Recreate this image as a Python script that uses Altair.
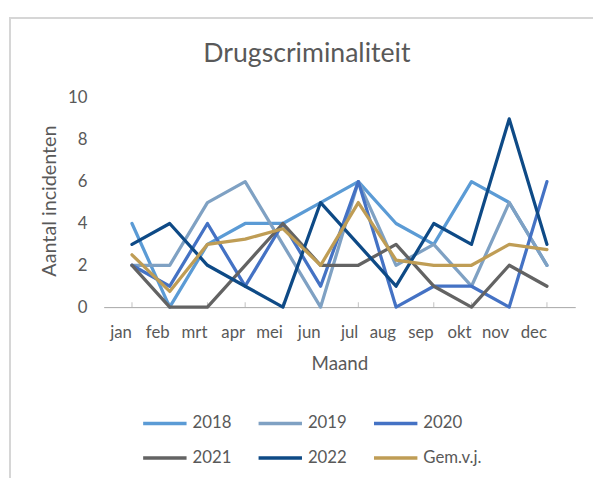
import altair as alt
import pandas as pd

months = ["jan", "feb", "mrt", "apr", "mei", "jun", "jul", "aug", "sep", "okt", "nov", "dec"]
series_names = ["2018", "2019", "2020", "2021", "2022", "Gem.v.j."]
y2018 = [4, 0, 3, 4, 4, 5, 6, 4, 3, 6, 5, 2]
y2019 = [2, 2, 5, 6, 3, 0, 6, 2, 3, 1, 5, 2]
y2020 = [2, 1, 4, 1, 4, 1, 6, 0, 1, 1, 0, 6]
y2021 = [2, 0, 0, 2, 4, 2, 2, 3, 1, 0, 2, 1]
y2022 = [3, 4, 2, 1, 0, 5, 3, 1, 4, 3, 9, 3]
gem = [2.5, 0.75, 3, 3.25, 3.75, 2, 5, 2.25, 2, 2, 3, 2.75]
colors = ["#5B9BD5", "#7FA1C3", "#4472C4", "#636363", "#0E4A86", "#BF9D55"]
chart_title = "Drugscriminaliteit"

values = [y2018, y2019, y2020, y2021, y2022, gem]
rows = []
for si, (name, vals) in enumerate(zip(series_names, values)):
    for m, v in zip(months, vals):
        rows.append({"Maand": m, "Jaar": name, "Aantal": v, "order": si})
df = pd.DataFrame(rows)

FONT = "Lato"
TXT = "#595959"

x_enc = alt.X("Maand:O", sort=months, scale=alt.Scale(domain=months, padding=0.5),
              axis=alt.Axis(title="Maand", labelAngle=0, ticks=False, labelPadding=26,
                            labelFontSize=17, labelColor=TXT, labelFont=FONT,
                            titleFontSize=19, titleColor=TXT, titleFont=FONT,
                            titleFontWeight="normal", titleX=239, titleY=57,
                            titleBaseline="middle", domainColor="#A6A6A6",
                            domainWidth=1, grid=False))
y_enc = alt.Y("Aantal:Q", scale=alt.Scale(domain=[0, 10], nice=False),
              axis=alt.Axis(title="Aantal incidenten", values=[0, 2, 4, 6, 8, 10],
                            ticks=False, domain=False, labelPadding=17,
                            labelFontSize=17, labelColor=TXT, labelFont=FONT,
                            gridColor="#D9D9D9", gridWidth=1,
                            titleFontSize=20, titleColor=TXT, titleFont=FONT,
                            titleFontWeight="normal", titleAngle=270,
                            titleX=-55, titleY=104, titleAlign="center",
                            titleBaseline="middle"))

lines = alt.Chart(df).mark_line(strokeWidth=3.3, strokeCap="round", strokeJoin="round").encode(
    x=x_enc,
    y=y_enc,
    color=alt.Color("Jaar:N", sort=series_names,
                    scale=alt.Scale(domain=series_names, range=colors),
                    legend=alt.Legend(title=None, orient="none", legendX=38, legendY=306,
                                      columns=3, direction="horizontal",
                                      symbolType="stroke", symbolSize=1936,
                                      symbolStrokeWidth=3.5, labelFontSize=17,
                                      labelFont=FONT, labelColor=TXT, labelOffset=4,
                                      columnPadding=20, rowPadding=3, padding=0)),
    order=alt.Order("order:Q"),
)

ticks_df = pd.DataFrame({"Maand": months})
ticks = alt.Chart(ticks_df).mark_tick(orient="vertical", size=5, thickness=1,
                                      color="#A6A6A6", yOffset=-2.5).encode(
    x=alt.X("Maand:O", sort=months),
    y=alt.datum(0),
)

frame_left = alt.Chart(ticks_df).mark_rule(color="#D6D6D6", strokeWidth=2).encode(
    x=alt.value(-95), y=alt.value(-81), y2=alt.value(420))
frame_top = alt.Chart(ticks_df).mark_rule(color="#D6D6D6", strokeWidth=2).encode(
    x=alt.value(-96), x2=alt.value(500), y=alt.value(-81))

title_mark = alt.Chart(pd.DataFrame({"t": [chart_title]})).mark_text(
    font=FONT, fontSize=27, color=TXT, align="center", baseline="alphabetic").encode(
    x=alt.value(206), y=alt.value(-36), text="t:N")

chart = alt.layer(frame_left, frame_top, title_mark, ticks, lines).properties(
    width=478, height=212,
    autosize=alt.AutoSizeParams(type="none"),
    padding={"left": 97, "top": 88, "right": 18, "bottom": 170},
).configure(background="white").configure_view(stroke=None)

chart.save("out.html", embed_options={"renderer": "svg", "actions": False})
